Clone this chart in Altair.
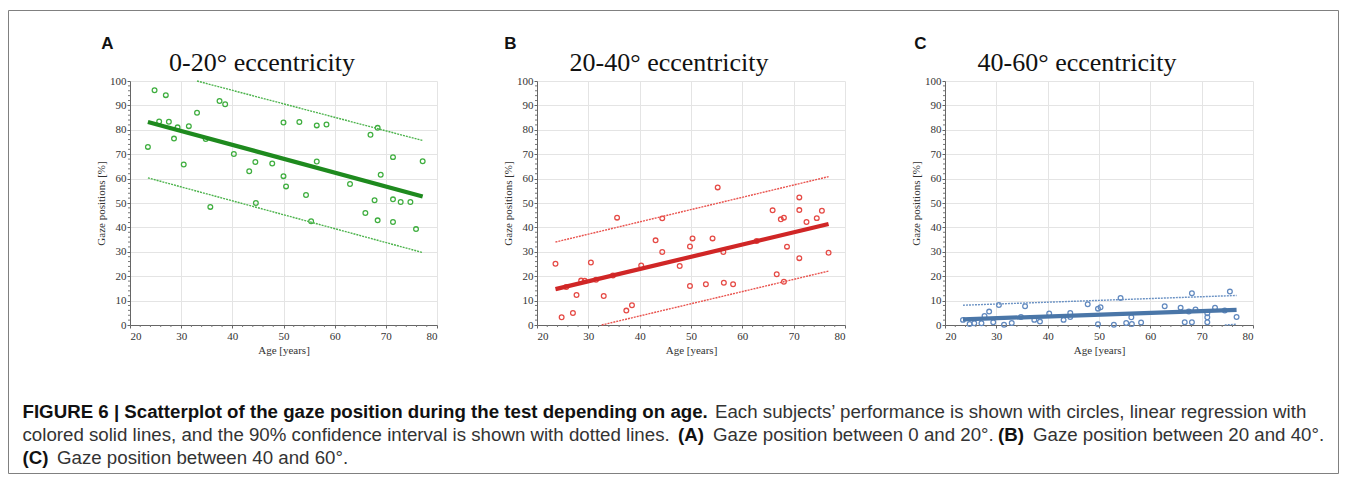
import altair as alt
import pandas as pd

# ---------------- data ----------------
ages_a = [23.5, 24.8, 25.7, 27.0, 27.6, 28.6, 29.3, 30.5, 31.5, 33.1, 34.8, 35.7, 37.5, 38.6,
          40.3, 43.3, 44.5, 44.6, 47.8, 50.0, 50.0, 50.5, 53.1, 54.4, 55.4, 56.5, 56.5, 58.4,
          63.0, 66.0, 67.0, 67.8, 68.4, 68.4, 69.0, 71.4, 71.4, 71.4, 72.9, 74.8, 75.9, 77.2]
gaze_a = [73.0, 96.2, 83.4, 94.2, 83.3, 76.4, 81.0, 65.8, 81.5, 87.0, 76.2, 48.4, 91.8, 90.5,
          70.1, 63.0, 66.8, 50.0, 66.2, 83.0, 61.0, 56.8, 83.2, 53.3, 42.5, 81.8, 67.0, 82.2,
          57.8, 45.9, 78.0, 51.1, 80.8, 42.9, 61.6, 68.8, 51.5, 42.2, 50.4, 50.4, 39.3, 67.1]

ages_b = [23.6, 24.8, 25.7, 27.0, 27.7, 28.6, 29.3, 30.5, 31.5, 33.0, 34.8, 35.6, 37.4, 38.5,
          40.3, 43.1, 44.4, 44.4, 47.8, 49.8, 49.8, 50.3, 52.9, 54.2, 55.2, 56.3, 56.4, 58.2,
          62.8, 65.9, 66.7, 67.5, 68.1, 68.1, 68.7, 71.1, 71.1, 71.1, 72.5, 74.5, 75.5, 76.8]
gaze_b = [25.1, 3.2, 15.6, 4.9, 12.3, 18.2, 18.1, 25.6, 18.5, 11.9, 20.3, 44.0, 5.9, 8.1,
          24.4, 34.7, 43.7, 29.9, 24.2, 32.2, 16.0, 35.5, 16.7, 35.5, 56.4, 29.9, 17.3, 16.7,
          34.4, 47.0, 20.8, 43.3, 44.0, 17.7, 32.1, 52.3, 47.1, 27.4, 42.2, 43.8, 46.8, 29.6]

ages_c = [23.5, 24.8, 25.7, 27.1, 27.7, 28.6, 29.4, 30.5, 31.5, 33.0, 34.8, 35.6, 37.4, 38.5,
          40.3, 43.1, 44.4, 44.4, 47.8, 49.8, 49.8, 50.3, 52.9, 54.2, 55.3, 56.3, 56.4, 58.2,
          62.8, 65.9, 66.7, 67.5, 68.1, 68.1, 68.8, 71.1, 71.1, 71.1, 72.6, 74.5, 75.5, 76.8]
gaze_c = [2.1, 0.4, 0.7, 0.7, 3.7, 5.5, 1.1, 8.2, 0.1, 0.8, 3.3, 7.7, 2.1, 1.4,
          4.7, 2.1, 4.9, 3.3, 8.5, 6.7, 0.3, 7.3, 0.1, 11.1, 0.8, 3.2, 0.4, 1.0,
          7.7, 7.1, 1.1, 5.5, 13.0, 1.1, 6.4, 3.2, 1.1, 4.8, 7.1, 5.9, 13.7, 3.3]

# regression lines and 90% confidence bounds (end points)
reg_a_x, reg_a_y = [23.5, 77.2], [83.2, 52.7]
up_a_x, up_a_y = [33.1, 77.2], [100.0, 75.6]
lo_a_x, lo_a_y = [23.5, 77.2], [60.3, 29.7]

reg_b_x, reg_b_y = [23.6, 76.8], [14.7, 41.4]
up_b_x, up_b_y = [23.6, 76.8], [34.0, 60.8]
lo_b_x, lo_b_y = [32.6, 76.8], [0.0, 22.1]

reg_c_x, reg_c_y = [23.5, 76.8], [2.3, 6.2]
up_c_x, up_c_y = [23.5, 76.8], [8.1, 12.1]
lo_c_x, lo_c_y = [74.5, 76.8], [0.0, 0.3]

x_ticks = [20, 30, 40, 50, 60, 70, 80]
y_ticks = [0, 10, 20, 30, 40, 50, 60, 70, 80, 90, 100]
x_minor = [v for v in range(22, 80, 2) if v % 10]
y_minor = [v for v in range(2, 100, 2) if v % 10]

titles = ["0-20° eccentricity", "20-40° eccentricity", "40-60° eccentricity"]
letters = ["A", "B", "C"]

cap_l1_bold = "FIGURE 6 | Scatterplot of the gaze position during the test depending on age."
cap_l1_norm = "Each subjects’ performance is shown with circles, linear regression with"
cap_l2_norm = "colored solid lines, and the 90% confidence interval is shown with dotted lines."
cap_l2_a = "(A)"
cap_l2_a_txt = "Gaze position between 0 and 20°."
cap_l2_b = "(B)"
cap_l2_b_txt = "Gaze position between 20 and 40°."
cap_l3_c = "(C)"
cap_l3_c_txt = "Gaze position between 40 and 60°."

H = 244
SERIF = "Liberation Serif"
SANS = "Liberation Sans"

X = alt.X("age:Q", scale=alt.Scale(domain=[20, 80], nice=False, zero=False),
          axis=alt.Axis(values=x_ticks, title="Age [years]", format="d"))
Y = alt.Y("val:Q", scale=alt.Scale(domain=[0, 100], nice=False, zero=False),
          axis=alt.Axis(values=y_ticks, title="Gaze positions [%]", format="d"))


def line_layer(xs, ys, color, width, dash=None):
    df = pd.DataFrame({"age": xs, "val": ys})
    if dash:
        m = alt.Chart(df).mark_line(color=color, strokeWidth=width, strokeDash=dash)
    else:
        m = alt.Chart(df).mark_line(color=color, strokeWidth=width, strokeCap="butt")
    return m.encode(x=X, y=Y)


def text_layer(txt, x, y, font, size, weight="normal", align="left", color="#222"):
    return alt.Chart(pd.DataFrame({"t": [txt]})).mark_text(
        font=font, fontSize=size, fontWeight=weight, align=align,
        baseline="alphabetic", color=color
    ).encode(text="t:N", x=alt.value(x), y=alt.value(y))


def panel(ages, vals, reg, up, lo, pcol, lcol, ccol, title, letter, letter_dx, width, extra=None):
    pts = alt.Chart(pd.DataFrame({"age": ages, "val": vals})).mark_point(
        shape="circle", filled=False, size=22, strokeWidth=1.3, color=pcol, opacity=1
    ).encode(x=X, y=Y)
    mx = alt.Chart(pd.DataFrame({"age": x_minor})).mark_rule(color="#777", strokeWidth=1).encode(
        x=X, y=alt.value(H), y2=alt.value(H + 2))
    my = alt.Chart(pd.DataFrame({"val": y_minor})).mark_rule(color="#777", strokeWidth=1).encode(
        y=Y, x=alt.value(0), x2=alt.value(-2))
    layers = [pts, mx, my,
              line_layer(up[0], up[1], ccol, 1.4, [2, 1]),
              line_layer(lo[0], lo[1], ccol, 1.4, [2, 1]),
              line_layer(reg[0], reg[1], lcol, 4.2),
              text_layer(title, 132, -10, SERIF, 26, color="#111", align="center"),
              text_layer(letter, letter_dx, -32.5, SANS, 17, weight="bold", align="center", color="#111")]
    if extra:
        layers += extra
    return alt.layer(*layers).properties(width=width, height=H)


# decorations (figure frame and caption) attached to the first panel
frame = alt.Chart(pd.DataFrame({"k": [0]})).mark_rect(
    fillOpacity=0, stroke="#808080", strokeWidth=1
).encode(x=alt.value(-121.5), x2=alt.value(1208.5), y=alt.value(-70.5), y2=alt.value(392.5))

CX = -107.5
CS = 18.7
caption = [
    text_layer(cap_l1_bold, CX, 337, SANS, CS, weight="bold", color="#111"),
    text_layer(cap_l1_norm, 585, 337, SANS, CS, color="#333"),
    text_layer(cap_l2_norm, CX, 360, SANS, CS, color="#333"),
    text_layer(cap_l2_a, 548, 360, SANS, CS, weight="bold", color="#111"),
    text_layer(cap_l2_a_txt, 583, 360, SANS, CS, color="#333"),
    text_layer(cap_l2_b, 868, 360, SANS, CS, weight="bold", color="#111"),
    text_layer(cap_l2_b_txt, 903, 360, SANS, CS, color="#333"),
    text_layer(cap_l3_c, CX, 383, SANS, CS, weight="bold", color="#111"),
    text_layer(cap_l3_c_txt, -73, 383, SANS, CS, color="#333"),
]

pa = panel(ages_a, gaze_a, (reg_a_x, reg_a_y), (up_a_x, up_a_y), (lo_a_x, lo_a_y),
           "#3fae3f", "#1e8a1e", "#4cb34c", titles[0], letters[0], -22.5, 307, [frame] + caption)
pb = panel(ages_b, gaze_b, (reg_b_x, reg_b_y), (up_b_x, up_b_y), (lo_b_x, lo_b_y),
           "#e54a45", "#d02626", "#e9534e", titles[1], letters[1], -26.5, 308)
pc = panel(ages_c, gaze_c, (reg_c_x, reg_c_y), (up_c_x, up_c_y), (lo_c_x, lo_c_y),
           "#6189bf", "#4a76a8", "#6b92c4", titles[2], letters[2], -24.5, 308)

chart = alt.hconcat(
    pa, pb, pc, spacing=100, bounds="flush",
).properties(
    padding={"left": 0, "top": 2, "right": 0, "bottom": 0}
).configure_view(
    stroke=None
).configure_axis(
    labelFont=SERIF, labelFontSize=11, labelColor="#333",
    titleFont=SERIF, titleFontSize=11, titleFontWeight="normal", titleColor="#333",
    domainColor="#666", tickColor="#666", tickSize=3,
    gridColor="#e4e4e4", gridWidth=1,
).configure_axisX(
    labelPadding=2, titlePadding=3
).configure_axisY(
    labelPadding=1, titlePadding=3
)

chart.save("out.html", embed_options={"renderer": "svg", "actions": False})
